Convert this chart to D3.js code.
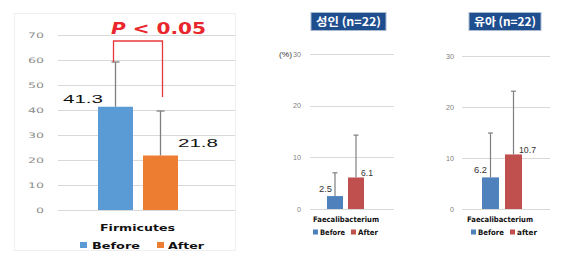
<!DOCTYPE html>
<html><head><meta charset="utf-8">
<script src="https://cdn.jsdelivr.net/npm/d3@7"></script>
<style>body{margin:0;background:#fff}svg{display:block}</style>
</head><body>
<svg id="c" width="569" height="262"></svg>
<script>
// ---- data ----
const series = ["Before", "After"];
const firmicutesCategory = "Firmicutes";
const firmicutesMean = [41.3, 21.8];
const firmicutesSD = [17.9, 17.8];
const firmicutesTicks = [0, 10, 20, 30, 40, 50, 60, 70];
const pText = "P < 0.05";

const faecaliCategory = "Faecalibacterium";
const adultTitle = "성인 (n=22)";
const adultMean = [2.5, 6.1];
const adultSD = [4.5, 8.2];
const infantTitle = "유아 (n=22)";
const infantMean = [6.2, 10.7];
const infantSD = [8.7, 12.4];
const smallTicks = [0, 10, 20, 30];
const adultLegend = ["Before", "After"];
const infantLegend = ["Before", "after"];

const svg = d3.select("#c");
const sans = "Liberation Sans, Arial, sans-serif";
const bold = "DejaVu Sans, Verdana, sans-serif";

function txt(g, x, y, s, o) {
  const t = g.append("text").attr("x", x).attr("y", y).text(s)
    .attr("font-family", o.family || sans).attr("font-size", o.size)
    .attr("fill", o.fill || "#222").attr("text-anchor", o.anchor || "start");
  if (o.weight) t.attr("font-weight", o.weight);
  if (o.len) t.attr("textLength", o.len).attr("lengthAdjust", "spacingAndGlyphs");
  return t;
}

// ================= Panel 1 =================
{
  const g = svg.append("g");
  g.append("rect").attr("x", 14.5).attr("y", 13.5).attr("width", 221).attr("height", 237)
    .attr("fill", "none").attr("stroke", "#efefef");
  const y = d3.scaleLinear().domain([0, 70]).range([210, 35]);
  const x = d3.scaleBand().domain(series).range([98, 178]).paddingInner(10 / 45);
  const colors = ["#5b9bd5", "#ed7d31"];
  g.selectAll("line.grid").data(firmicutesTicks).join("line")
    .attr("x1", 58).attr("x2", 235).attr("y1", d => Math.round(y(d)) + 0.5).attr("y2", d => Math.round(y(d)) + 0.5)
    .attr("stroke", "#d9d9d9").attr("stroke-width", 1);
  firmicutesTicks.forEach(d => txt(g, 44, y(d) + 3, String(d), {size: 7.5, fill: "#8c8c8c", anchor: "end", len: String(d).length * 8, family: bold}));
  series.forEach((s, i) => {
    g.append("rect").attr("x", x(s)).attr("y", y(firmicutesMean[i])).attr("width", x.bandwidth())
      .attr("height", y(0) - y(firmicutesMean[i])).attr("fill", colors[i]);
    const cx = x(s) + x.bandwidth() / 2;
    const top = y(firmicutesMean[i] + firmicutesSD[i]);
    g.append("line").attr("x1", cx).attr("x2", cx).attr("y1", y(firmicutesMean[i])).attr("y2", top).attr("stroke", "#7f7f7f").attr("stroke-width", 1.3);
    g.append("line").attr("x1", cx - 4).attr("x2", cx + 4).attr("y1", top).attr("y2", top).attr("stroke", "#7f7f7f").attr("stroke-width", 1.3);
  });
  txt(g, 63, 103, firmicutesMean[0].toFixed(1), {size: 11.5, fill: "#111", len: 40});
  txt(g, 178, 147, firmicutesMean[1].toFixed(1), {size: 11.5, fill: "#111", len: 40});
  // significance bracket
  const bx1 = x("Before") + x.bandwidth() / 2 - 2, bx2 = x("After") + x.bandwidth() / 2 + 2;
  const yb = 41;
  g.append("path")
    .attr("d", `M${bx1},${y(firmicutesMean[0] + firmicutesSD[0])}V${yb}H${bx2}V97`)
    .attr("fill", "none").attr("stroke", "#e8383d").attr("stroke-width", 1.3);
  const pt = g.append("text").attr("x", 111).attr("y", 34).attr("font-family", bold).attr("font-weight", "bold")
    .attr("font-size", 15.5).attr("fill", "#e8262c").attr("textLength", 95).attr("lengthAdjust", "spacingAndGlyphs");
  pt.append("tspan").attr("font-style", "italic").text(pText.slice(0, 1));
  pt.append("tspan").text(pText.slice(1));
  txt(g, 100, 231, firmicutesCategory, {size: 9.5, weight: "bold", family: bold, fill: "#111", len: 75});
  // legend
  const lg = [[80, 92, 48], [157, 168, 36]];
  series.forEach((s, i) => {
    g.append("rect").attr("x", lg[i][0]).attr("y", 242).attr("width", 7).attr("height", 6).attr("fill", colors[i]);
    txt(g, lg[i][1], 249, s, {size: 9.5, weight: "bold", family: bold, fill: "#111", len: lg[i][2]});
  });
}

// ================= Panels 2 & 3 =================
function smallPanel(o) {
  const g = svg.append("g");
  const y = d3.scaleLinear().domain([0, 30]).range([209, o.top30]);
  const x = d3.scaleBand().domain(series).range(o.barRange).paddingInner(o.pad);
  const colors = ["#4f81bd", "#c0504d"];
  g.selectAll("line.grid").data(smallTicks).join("line")
    .attr("x1", o.gx[0]).attr("x2", o.gx[1]).attr("y1", d => Math.round(y(d)) + 0.5).attr("y2", d => Math.round(y(d)) + 0.5)
    .attr("stroke", "#d9d9d9");
  smallTicks.forEach(d => txt(g, o.tickX, y(d) + 2.5, String(d), {size: 7, fill: "#7f7f7f", anchor: "end", len: String(d).length * 4}));
  if (o.unit) txt(g, 279, y(30) + 2.5, "(%)", {size: 7.5, fill: "#333", len: 13});
  series.forEach((s, i) => {
    g.append("rect").attr("x", x(s)).attr("y", y(o.mean[i])).attr("width", x.bandwidth())
      .attr("height", y(0) - y(o.mean[i])).attr("fill", colors[i]);
    const cx = x(s) + x.bandwidth() / 2;
    const top = y(o.mean[i] + o.sd[i]);
    g.append("line").attr("x1", cx).attr("x2", cx).attr("y1", y(o.mean[i])).attr("y2", top).attr("stroke", "#7f7f7f").attr("stroke-width", 1.2);
    g.append("line").attr("x1", cx - 2.5).attr("x2", cx + 2.5).attr("y1", top).attr("y2", top).attr("stroke", "#7f7f7f").attr("stroke-width", 1.2);
  });
  txt(g, o.lab[0][0], y(o.mean[0]) - 4, o.mean[0].toFixed(1), {size: 9.5, fill: "#333", len: o.lab[0][1]});
  txt(g, o.lab[1][0], y(o.mean[1]) - 1, o.mean[1].toFixed(1), {size: 9.5, fill: "#333", len: o.lab[1][1]});
  // title box
  g.append("rect").attr("x", o.box[0]).attr("y", 12.5).attr("width", o.box[1]).attr("height", 18)
    .attr("fill", "#1f4e8f").attr("stroke", "#a9b9d2").attr("stroke-width", 1);
  txt(g, o.box[0] + o.box[1] / 2, 26, o.title, {size: 11.5, weight: "bold", fill: "#fff", anchor: "middle",
    family: "Noto Sans CJK KR, sans-serif", len: o.box[1] - 10});
  txt(g, o.cat[0], 222, faecaliCategory, {size: 7.5, weight: "bold", family: bold, fill: "#111", len: o.cat[1]});
  series.forEach((s, i) => {
    g.append("rect").attr("x", o.leg[i][0]).attr("y", 229.5).attr("width", 5).attr("height", 5).attr("fill", colors[i]);
    txt(g, o.leg[i][1], 235, o.legend[i], {size: 7.5, weight: "bold", family: bold, fill: "#111", len: o.leg[i][2]});
  });
}

smallPanel({top30: 54, barRange: [327, 364], pad: 5 / 21, gx: [310, 394], tickX: 301, unit: true,
  mean: adultMean, sd: adultSD, lab: [[319, 13], [361, 12]], box: [311, 75], title: adultTitle,
  cat: [313, 66], leg: [[313, 320, 25], [351, 358, 20]], legend: adultLegend});
smallPanel({top30: 56, barRange: [482, 522], pad: 6 / 23, gx: [462, 550], tickX: 454, unit: false,
  mean: infantMean, sd: infantSD, lab: [[474, 13], [519, 17]], box: [469, 72], title: infantTitle,
  cat: [467, 66], leg: [[471, 478, 26], [510, 517, 20]], legend: infantLegend});
</script>
</body></html>
